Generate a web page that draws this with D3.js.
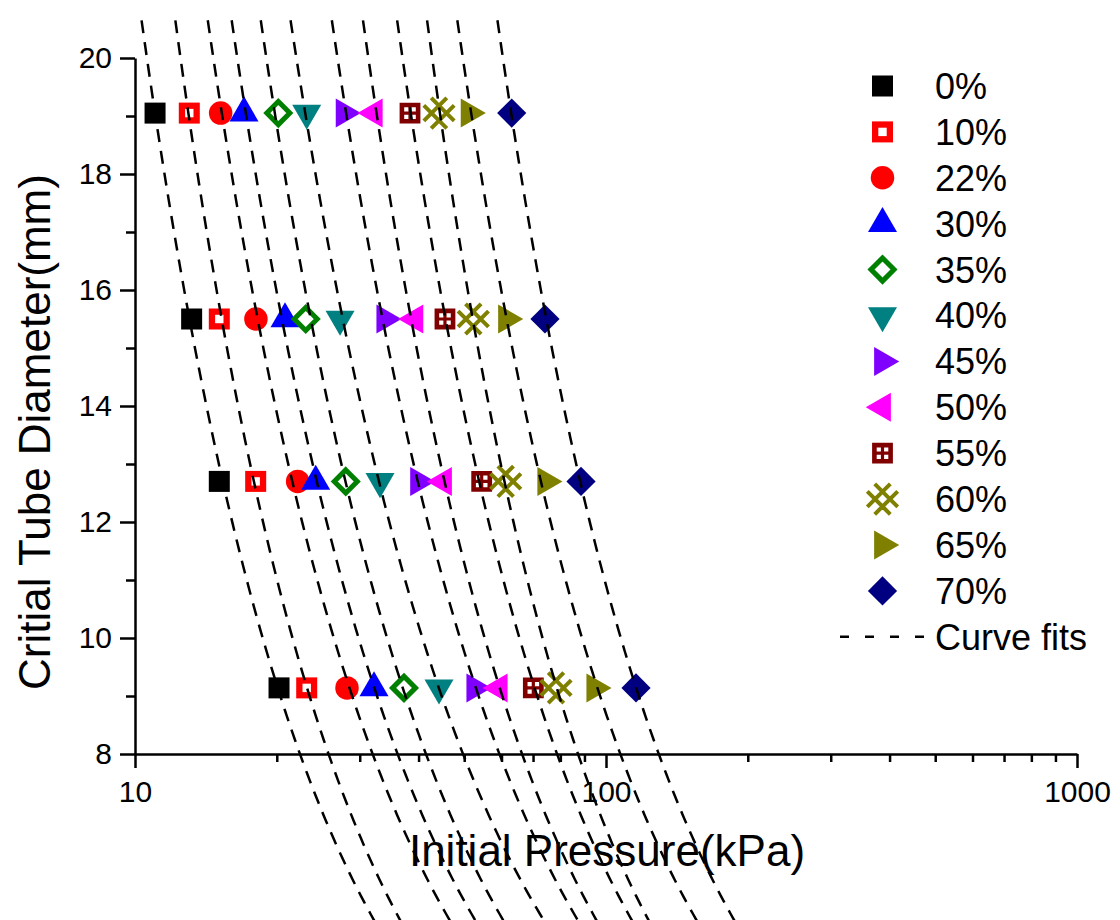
<!DOCTYPE html>
<html>
<head>
<meta charset="utf-8">
<script src="https://cdn.jsdelivr.net/npm/d3@7"></script>
<style>
  html, body { margin: 0; padding: 0; background: #fff; }
  svg text { font-family: "Liberation Sans", Arial, Helvetica, sans-serif; fill: #000; }
</style>
</head>
<body>
<svg id="chart" width="1120" height="920"></svg>
<script>
// ---------------- data ----------------
const seriesLabels = ["0%", "10%", "22%", "30%", "35%", "40%", "45%", "50%", "55%", "60%", "65%", "70%"];
const diameters = [19.05, 15.5, 12.7, 9.14];           // Critical tube diameter (mm), one per row
// initial pressure (kPa) for each series at the four diameters above
const p00 = [11.03, 13.19, 15.10, 20.22];
const p10 = [13.04, 15.10, 18.04, 23.15];
const p22 = [15.20, 18.06, 22.15, 28.19];
const p30 = [17.04, 20.82, 24.19, 32.17];
const p35 = [20.15, 23.04, 28.02, 37.25];
const p40 = [23.15, 27.25, 33.13, 44.20];
const p45 = [27.80, 33.91, 40.00, 52.66];
const p50 = [32.21, 39.29, 45.19, 59.33];
const p55 = [38.36, 45.51, 54.46, 70.10];
const p60 = [44.20, 52.27, 61.24, 78.31];
const p65 = [51.21, 61.49, 74.49, 94.67];
const p70 = [63.07, 74.21, 88.50, 115.8];
const pressures = [p00, p10, p22, p30, p35, p40, p45, p50, p55, p60, p65, p70];
const markerTypes = ["square", "openSquare", "circle", "triUp", "openDiamond", "triDown",
                     "triRight", "triLeft", "squareCross", "hatch", "triRight", "diamond"];
const markerColors = ["#000000", "#FF0000", "#FF0000", "#0000FF", "#008000", "#008080",
                      "#8000FF", "#FF00FF", "#800000", "#808000", "#808000", "#000080"];
const xTickValues = [10, 100, 1000];
const xMinorTicks = [20, 30, 40, 50, 60, 70, 80, 90, 200, 300, 400, 500, 600, 700, 800, 900];
const yTickValues = [8, 10, 12, 14, 16, 18, 20];
const yMinorTicks = [9, 11, 13, 15, 17, 19];
const xTitle = "Initial Pressure(kPa)";
const yTitle = "Critial Tube Diameter(mm)";
const fitLabel = "Curve fits";

// ---------------- layout ----------------
const svg = d3.select("#chart");
const x = d3.scaleLog().domain([10, 1000]).range([135, 1077]);
const y = d3.scaleLinear().domain([8, 20]).range([754, 58]);
const axisColor = "#000";

// minor ticks first
const xMinorAxis = d3.axisBottom(x).tickValues(xMinorTicks).tickSize(8).tickFormat("");
const yMinorAxis = d3.axisLeft(y).tickValues(yMinorTicks).tickSize(9).tickFormat("");
const gxm = svg.append("g").attr("transform", "translate(0,754)").call(xMinorAxis);
const gym = svg.append("g").attr("transform", "translate(135,0)").call(yMinorAxis);
[gxm, gym].forEach(g => { g.select(".domain").remove(); g.selectAll("line").attr("stroke", axisColor).attr("stroke-width", 2.5); });

const xAxis = d3.axisBottom(x).tickValues(xTickValues).tickSize(14).tickSizeOuter(0).tickPadding(13)
  .tickFormat(d3.format("d"));
const yAxis = d3.axisLeft(y).tickValues(yTickValues).tickSize(15).tickSizeOuter(0).tickPadding(8)
  .tickFormat(d3.format("d"));
const gx = svg.append("g").attr("transform", "translate(0,754)").call(xAxis);
const gy = svg.append("g").attr("transform", "translate(135,0)").call(yAxis);
[gx, gy].forEach(g => {
  g.select(".domain").attr("stroke", axisColor).attr("stroke-width", 2.5);
  g.selectAll("line").attr("stroke", axisColor).attr("stroke-width", 2.5);
  g.selectAll("text").attr("font-size", 30).attr("fill", "#000")
   .attr("font-family", "'Liberation Sans', Arial, sans-serif");
});

// titles
svg.append("text").attr("x", 607).attr("y", 866).attr("text-anchor", "middle")
  .attr("font-size", 44).text(xTitle);
svg.append("text").attr("transform", "translate(50,432) rotate(-90)").attr("text-anchor", "middle")
  .attr("font-size", 44).text(yTitle);

// ---------------- markers ----------------
function drawMarker(g, type, color, cx, cy) {
  const m = g.append("g").attr("transform", `translate(${cx},${cy})`);
  const s3 = Math.sqrt(3);
  const side = 29, h = side * s3 / 2;
  switch (type) {
    case "square":
      m.append("rect").attr("x", -10.5).attr("y", -10.5).attr("width", 21).attr("height", 21).attr("fill", color);
      break;
    case "openSquare":
      m.append("rect").attr("x", -7.35).attr("y", -7.35).attr("width", 14.7).attr("height", 14.7)
        .attr("fill", "#fff").attr("stroke", color).attr("stroke-width", 6.3);
      break;
    case "circle":
      m.append("circle").attr("r", 11.75).attr("fill", color);
      break;
    case "triUp":
      m.append("path").attr("d", `M0,${-2*h/3}L${side/2},${h/3}L${-side/2},${h/3}Z`).attr("fill", color);
      break;
    case "triDown":
      m.append("path").attr("d", `M0,${2*h/3}L${side/2},${-h/3}L${-side/2},${-h/3}Z`).attr("fill", color);
      break;
    case "triRight":
      m.append("path").attr("d", `M${2*h/3},0L${-h/3},${side/2}L${-h/3},${-side/2}Z`).attr("fill", color);
      break;
    case "triLeft":
      m.append("path").attr("d", `M${-2*h/3},0L${h/3},${side/2}L${h/3},${-side/2}Z`).attr("fill", color);
      break;
    case "openDiamond":
      m.append("path").attr("d", "M0,-11.5L11.5,0L0,11.5L-11.5,0Z").attr("fill", "#fff")
        .attr("stroke", color).attr("stroke-width", 5).attr("stroke-linejoin", "miter");
      break;
    case "diamond":
      m.append("path").attr("d", "M0,-14.6L14.6,0L0,14.6L-14.6,0Z").attr("fill", color);
      break;
    case "squareCross": {
      const o = 10.4, a = 1.6, b = 5.8;
      let d = `M${-o},${-o}H${o}V${o}H${-o}Z`;
      [[-b, -a], [a, b]].forEach(([x0, x1]) => {
        [[-b, -a], [a, b]].forEach(([y0, y1]) => {
          d += `M${x0},${y0}H${x1}V${y1}H${x0}Z`;
        });
      });
      m.append("path").attr("d", d).attr("fill", color).attr("fill-rule", "evenodd");
      break;
    }
    case "hatch": {
      const c = 7.8, e = 15.2;
      const d = `M${-c},${-e}L${e},${c}` + `M${-e},${-c}L${c},${e}` +
                `M${-c},${e}L${e},${-c}` + `M${-e},${c}L${c},${-e}`;
      m.append("path").attr("d", d).attr("fill", "none").attr("stroke", color).attr("stroke-width", 4);
      break;
    }
  }
}

const gMarkers = svg.append("g");
pressures.forEach((ps, si) => {
  ps.forEach((p, ri) => {
    drawMarker(gMarkers, markerTypes[si], markerColors[si], x(p), y(diameters[ri]));
  });
});

// ---------------- curve fits (power law fitted to each series) ----------------
function fitPower(ps) {
  const X = diameters.map(d => Math.log10(d));
  const Y = ps.map(p => Math.log10(p));
  const mx = d3.mean(X), my = d3.mean(Y);
  let sxy = 0, sxx = 0;
  X.forEach((v, i) => { sxy += (v - mx) * (Y[i] - my); sxx += (v - mx) * (v - mx); });
  const b = sxy / sxx, a = my - b * mx;
  return d => Math.pow(10, a + b * Math.log10(d));
}
const dRange = d3.range(20.65, 4.7, -0.1);
const line = d3.line().x(d => x(d[0])).y(d => y(d[1]));
const gFits = svg.append("g");
pressures.forEach(ps => {
  const f = fitPower(ps);
  gFits.append("path").attr("d", line(dRange.map(d => [f(d), d])))
    .attr("fill", "none").attr("stroke", "#000").attr("stroke-width", 2.5)
    .attr("stroke-dasharray", "13,9");
});

// ---------------- legend ----------------
const legend = svg.append("g");
const lx = 882.5, ly0 = 86, dy = 45.9;
seriesLabels.forEach((lab, i) => {
  const cy = ly0 + i * dy;
  drawMarker(legend, markerTypes[i], markerColors[i], lx, cy);
  legend.append("text").attr("x", 935).attr("y", cy + 12.9).attr("font-size", 36).text(lab);
});
const cyFit = ly0 + seriesLabels.length * dy;
legend.append("line").attr("x1", 840).attr("x2", 926).attr("y1", cyFit).attr("y2", cyFit)
  .attr("stroke", "#000").attr("stroke-width", 2.5).attr("stroke-dasharray", "9,16");
legend.append("text").attr("x", 935).attr("y", cyFit + 12.9).attr("font-size", 36).text(fitLabel);
</script>
</body>
</html>
